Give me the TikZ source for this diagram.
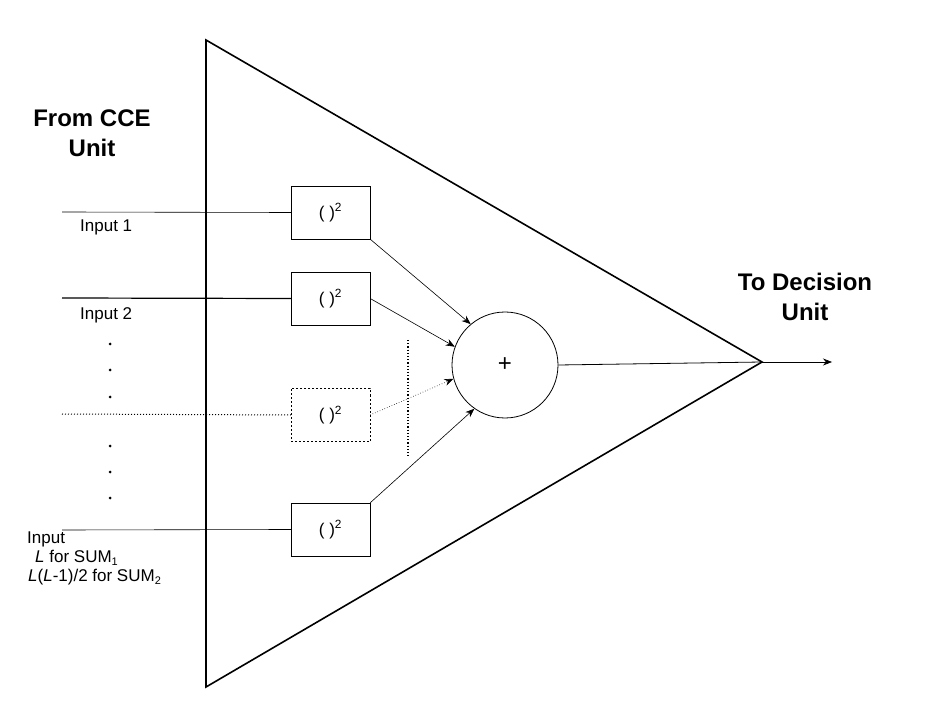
\documentclass[tikz,border=0pt]{standalone}
\usepackage{fontspec}
\setmainfont{Liberation Sans}
\usetikzlibrary{arrows.meta}
\newcommand{\sqr}{( )\textsuperscript{2}}
\newcommand{\sub}[1]{\raisebox{-3pt}{\fontsize{11}{11}\selectfont #1}}
\begin{document}
\begin{tikzpicture}[x=1pt,y=-1pt,
  sq/.style={draw,minimum width=79pt,minimum height=53pt,inner sep=0pt,font=\fontsize{17}{19}\selectfont},
  lbl/.style={font=\fontsize{17}{20}\selectfont,inner sep=0pt},
  big/.style={font=\bfseries\fontsize{24}{30}\selectfont,align=center,inner sep=0pt},
  arr/.style={-{Stealth[length=9pt,width=7pt]},line width=0.6pt},
  dt/.style={dotted,line width=1.2pt}]
\useasboundingbox (0,0) rectangle (929,708);
\coordinate (t1) at (206,40); \coordinate (t2) at (206,687); \coordinate (tip) at (762,362);
\draw[line width=1.6pt,line join=miter] (t1)--(tip)--(t2)--cycle;
\node[sq,fill=white] (b1) at (330.5,212.5) {\sqr};
\node[sq,fill=white] (b2) at (330.5,298.5) {\sqr};
\node[sq,fill=white,dash pattern=on 2pt off 2pt] (b3) at (330.5,415) {\sqr};
\node[sq,fill=white] (b4) at (330.5,529.5) {\sqr};
\node[draw,circle,minimum size=106pt,inner sep=0pt,line width=0.8pt,font=\fontsize{24}{26}\selectfont] (s) at (505,365) {+};
\coordinate (i1) at (62,212); \coordinate (i2) at (62,298); \coordinate (i3) at (62,414); \coordinate (i4) at (62,530);
\draw[line width=0.6pt] (i1)--(b1.west);
\draw[line width=1.2pt] (i2)--(b2.west);
\draw[dt,line width=1pt] (i3)--(b3.west);
\draw[line width=0.6pt] (i4)--(b4.west);
\draw[arr] (b1.south east)--(s.130);
\draw[arr] (b2.east)--(s.160);
\draw[arr,dotted] (b3.east)--(s.195);
\draw[arr] (b4.north east)--(s.235);
\coordinate (o) at (832,362);
\draw[line width=0.8pt] (s.east)--(tip);
\draw[arr] (tip)--(o);
\foreach \y in {344,370,397,446,472,498} \fill (110,\y) circle (1.5pt);
\coordinate (v1) at (408,340); \coordinate (v2) at (408,458);
\draw[dt] (v1)--(v2);
\node[big] (from) at (92,133) {From CCE\\Unit};
\node[big] (to) at (805,297) {To Decision\\Unit};
\node[lbl,anchor=west] (l1) at (80,227) {Input 1};
\node[lbl,anchor=west] (l2) at (80,315) {Input 2};
\node[lbl,anchor=north west,align=left] (l4) at (27,532) {Input\\[-1pt]\hspace*{8pt}\textit{L} for SUM\sub{1}\\[-1pt]\hspace*{1pt}\textit{L}(\textit{L}-1)/2 for SUM\sub{2}};
\end{tikzpicture}
\end{document}
